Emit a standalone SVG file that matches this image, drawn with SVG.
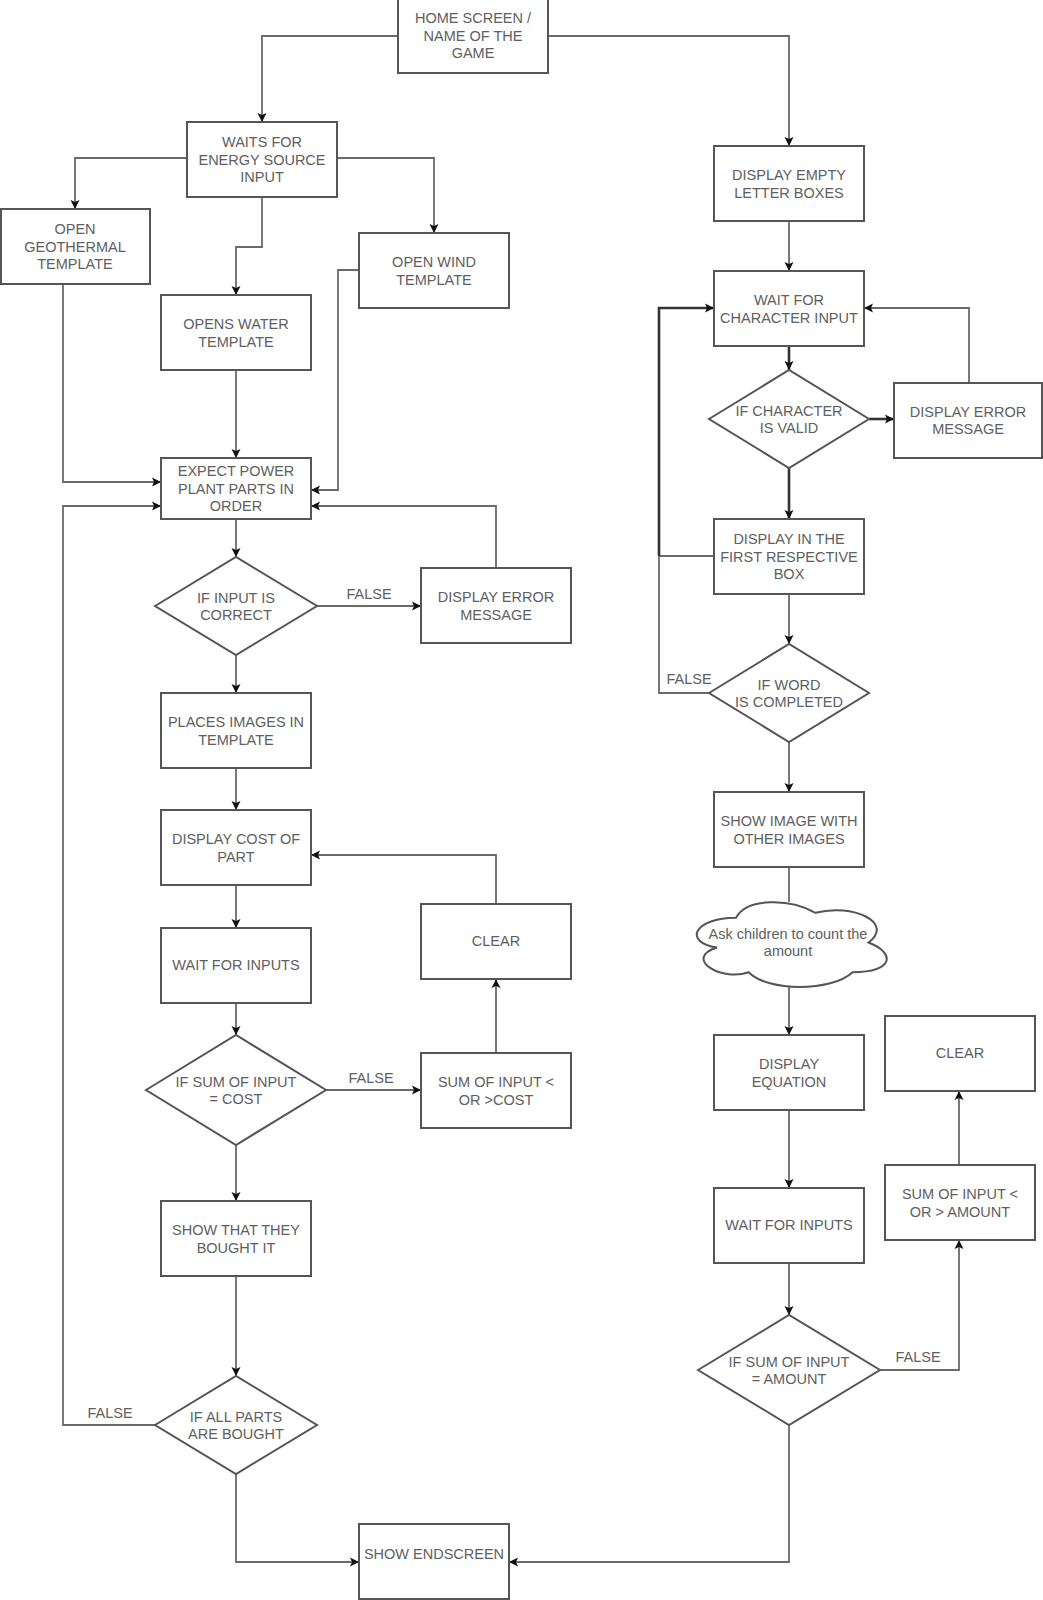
<svg xmlns="http://www.w3.org/2000/svg" width="1043" height="1600" viewBox="0 0 1043 1600">
<style>
.n{fill:#fff;stroke:#555;stroke-width:2}
.t{font-family:"Liberation Sans",Arial,sans-serif;font-size:14.5px;fill:#606060;text-anchor:middle;dominant-baseline:central}
.c{fill:none;stroke:#6a6a6a;stroke-width:1.8}
.k{fill:none;stroke:#333;stroke-width:2.6}
</style>
<defs>
<marker id="a" viewBox="0 0 10 10" refX="9.5" refY="5" markerWidth="10" markerHeight="10" markerUnits="userSpaceOnUse" orient="auto">
<path d="M0.5,0.5 L9.5,5 L0.5,9.5 L2.5,5 z" fill="#111"/>
</marker>
</defs>
<rect width="1043" height="1600" fill="#fff"/>
<g id="connectors">
<path class="c" d="M398,36 H262 V122" marker-end="url(#a)"/>
<path class="c" d="M548,36 H789 V146" marker-end="url(#a)"/>
<path class="c" d="M187,158 H75 V209" marker-end="url(#a)"/>
<path class="c" d="M262,197 V247 H236 V295" marker-end="url(#a)"/>
<path class="c" d="M337,158 H434 V233" marker-end="url(#a)"/>
<path class="c" d="M63,284 V482 H161" marker-end="url(#a)"/>
<path class="c" d="M359,270 H338 V490 H311" marker-end="url(#a)"/>
<path class="c" d="M236,370 V458" marker-end="url(#a)"/>
<path class="c" d="M236,519 V557" marker-end="url(#a)"/>
<path class="c" d="M317,606 H421" marker-end="url(#a)"/>
<path class="c" d="M496,568 V506 H311" marker-end="url(#a)"/>
<path class="c" d="M155,1425 H63 V506 H161" marker-end="url(#a)"/>
<path class="c" d="M236,655 V693" marker-end="url(#a)"/>
<path class="c" d="M236,768 V810" marker-end="url(#a)"/>
<path class="c" d="M236,885 V928" marker-end="url(#a)"/>
<path class="c" d="M236,1003 V1035" marker-end="url(#a)"/>
<path class="c" d="M326,1090 H421" marker-end="url(#a)"/>
<path class="c" d="M496,1053 V979" marker-end="url(#a)"/>
<path class="c" d="M496,904 V855 H311" marker-end="url(#a)"/>
<path class="c" d="M236,1145 V1201" marker-end="url(#a)"/>
<path class="c" d="M236,1276 V1376" marker-end="url(#a)"/>
<path class="c" d="M236,1474 V1562 H359" marker-end="url(#a)"/>
<path class="c" d="M789,1425 V1562 H509" marker-end="url(#a)"/>
<path class="c" d="M789,221 V271" marker-end="url(#a)"/>
<path class="k" d="M789,346 V370" marker-end="url(#a)"/>
<path class="k" d="M869,419 H894" marker-end="url(#a)"/>
<path class="c" d="M969,383 V308 H864" marker-end="url(#a)"/>
<path class="k" d="M789,468 V519" marker-end="url(#a)"/>
<path class="c" d="M714,556 H659"/>
<path class="c" d="M709,693 H659 V556"/>
<path class="k" d="M659,556 V308 H714" marker-end="url(#a)"/>
<path class="c" d="M789,594 V644" marker-end="url(#a)"/>
<path class="c" d="M789,742 V792" marker-end="url(#a)"/>
<path class="c" d="M789,867 V902"/>
<path class="c" d="M789,986 V1035" marker-end="url(#a)"/>
<path class="c" d="M789,1110 V1188" marker-end="url(#a)"/>
<path class="c" d="M789,1263 V1315" marker-end="url(#a)"/>
<path class="c" d="M880,1370 H959 V1240" marker-end="url(#a)"/>
<path class="c" d="M959,1165 V1091" marker-end="url(#a)"/>
<text class="t" x="369" y="594">FALSE</text>
<text class="t" x="371" y="1078">FALSE</text>
<text class="t" x="110" y="1413">FALSE</text>
<text class="t" x="689" y="679">FALSE</text>
<text class="t" x="918" y="1357">FALSE</text>
</g>
<g id="home"><rect class="n" x="398" y="-1" width="150" height="74"/><text class="t" x="473" y="18">HOME SCREEN /</text><text class="t" x="473" y="35.5">NAME OF THE</text><text class="t" x="473" y="53">GAME</text></g>
<g id="waits"><rect class="n" x="187" y="122" width="150" height="75"/><text class="t" x="262" y="142">WAITS FOR</text><text class="t" x="262" y="159.5">ENERGY SOURCE</text><text class="t" x="262" y="177">INPUT</text></g>
<g id="geo"><rect class="n" x="1" y="209" width="149" height="75"/><text class="t" x="75" y="229">OPEN</text><text class="t" x="75" y="246.5">GEOTHERMAL</text><text class="t" x="75" y="264">TEMPLATE</text></g>
<g id="water"><rect class="n" x="161" y="295" width="150" height="75"/><text class="t" x="236" y="324">OPENS WATER</text><text class="t" x="236" y="341.5">TEMPLATE</text></g>
<g id="wind"><rect class="n" x="359" y="233" width="150" height="75"/><text class="t" x="434" y="262">OPEN WIND</text><text class="t" x="434" y="279.5">TEMPLATE</text></g>
<g id="expect"><rect class="n" x="161" y="458" width="150" height="61"/><text class="t" x="236" y="471">EXPECT POWER</text><text class="t" x="236" y="488.5">PLANT PARTS IN</text><text class="t" x="236" y="506">ORDER</text></g>
<g id="d1"><polygon class="n" points="155,606 236,557 317,606 236,655"/><text class="t" x="236" y="597.5">IF INPUT IS</text><text class="t" x="236" y="615">CORRECT</text></g>
<g id="err1"><rect class="n" x="421" y="568" width="150" height="75"/><text class="t" x="496" y="597">DISPLAY ERROR</text><text class="t" x="496" y="614.5">MESSAGE</text></g>
<g id="places"><rect class="n" x="161" y="693" width="150" height="75"/><text class="t" x="236" y="722">PLACES IMAGES IN</text><text class="t" x="236" y="739.5">TEMPLATE</text></g>
<g id="cost"><rect class="n" x="161" y="810" width="150" height="75"/><text class="t" x="236" y="839">DISPLAY COST OF</text><text class="t" x="236" y="856.5">PART</text></g>
<g id="wait1"><rect class="n" x="161" y="928" width="150" height="75"/><text class="t" x="236" y="965">WAIT FOR INPUTS</text></g>
<g id="d2"><polygon class="n" points="146,1090 236,1035 326,1090 236,1145"/><text class="t" x="236" y="1081.5">IF SUM OF INPUT</text><text class="t" x="236" y="1099">= COST</text></g>
<g id="clear1"><rect class="n" x="421" y="904" width="150" height="75"/><text class="t" x="496" y="941">CLEAR</text></g>
<g id="sum1"><rect class="n" x="421" y="1053" width="150" height="75"/><text class="t" x="496" y="1082">SUM OF INPUT &lt;</text><text class="t" x="496" y="1099.5">OR &gt;COST</text></g>
<g id="bought"><rect class="n" x="161" y="1201" width="150" height="75"/><text class="t" x="236" y="1230">SHOW THAT THEY</text><text class="t" x="236" y="1247.5">BOUGHT IT</text></g>
<g id="d3"><polygon class="n" points="155,1425 236,1376 317,1425 236,1474"/><text class="t" x="236" y="1416.5">IF ALL PARTS</text><text class="t" x="236" y="1434">ARE BOUGHT</text></g>
<g id="end"><rect class="n" x="359" y="1524" width="150" height="75"/><text class="t" x="434" y="1554">SHOW ENDSCREEN</text></g>
<g id="empty"><rect class="n" x="714" y="146" width="150" height="75"/><text class="t" x="789" y="175">DISPLAY EMPTY</text><text class="t" x="789" y="192.5">LETTER BOXES</text></g>
<g id="waitc"><rect class="n" x="714" y="271" width="150" height="75"/><text class="t" x="789" y="300">WAIT FOR</text><text class="t" x="789" y="317.5">CHARACTER INPUT</text></g>
<g id="d4"><polygon class="n" points="709,419 789,370 869,419 789,468"/><text class="t" x="789" y="410.5">IF CHARACTER</text><text class="t" x="789" y="428">IS VALID</text></g>
<g id="err2"><rect class="n" x="894" y="383" width="148" height="75"/><text class="t" x="968" y="411.5">DISPLAY ERROR</text><text class="t" x="968" y="429">MESSAGE</text></g>
<g id="first"><rect class="n" x="714" y="519" width="150" height="75"/><text class="t" x="789" y="539">DISPLAY IN THE</text><text class="t" x="789" y="556.5">FIRST RESPECTIVE</text><text class="t" x="789" y="574">BOX</text></g>
<g id="d5"><polygon class="n" points="709,693 789,644 869,693 789,742"/><text class="t" x="789" y="684.5">IF WORD</text><text class="t" x="789" y="702">IS COMPLETED</text></g>
<g id="showimg"><rect class="n" x="714" y="792" width="150" height="75"/><text class="t" x="789" y="821">SHOW IMAGE WITH</text><text class="t" x="789" y="838.5">OTHER IMAGES</text></g>
<g id="cloud"><path class="n" d="M736,917.8 C693.6,917.8 683,942.5 716.9,947.5 C683,958.3 721.2,982.1 748.7,972.2 C767.8,992 831.4,992 852.6,972.2 C895,972.2 895,952.4 868.5,942.5 C895,922.7 852.6,902.9 815.5,912.8 C789,898 746.6,898 736,917.8 Z"/><text class="t" x="788" y="934">Ask children to count the</text><text class="t" x="788" y="951">amount</text></g>
<g id="eq"><rect class="n" x="714" y="1035" width="150" height="75"/><text class="t" x="789" y="1064">DISPLAY</text><text class="t" x="789" y="1081.5">EQUATION</text></g>
<g id="wait2"><rect class="n" x="714" y="1188" width="150" height="75"/><text class="t" x="789" y="1225">WAIT FOR INPUTS</text></g>
<g id="d6"><polygon class="n" points="698,1370 789,1315 880,1370 789,1425"/><text class="t" x="789" y="1361.5">IF SUM OF INPUT</text><text class="t" x="789" y="1379">= AMOUNT</text></g>
<g id="clear2"><rect class="n" x="885" y="1016" width="150" height="75"/><text class="t" x="960" y="1053">CLEAR</text></g>
<g id="sum2"><rect class="n" x="885" y="1165" width="150" height="75"/><text class="t" x="960" y="1194">SUM OF INPUT &lt;</text><text class="t" x="960" y="1211.5">OR &gt; AMOUNT</text></g>
</svg>
